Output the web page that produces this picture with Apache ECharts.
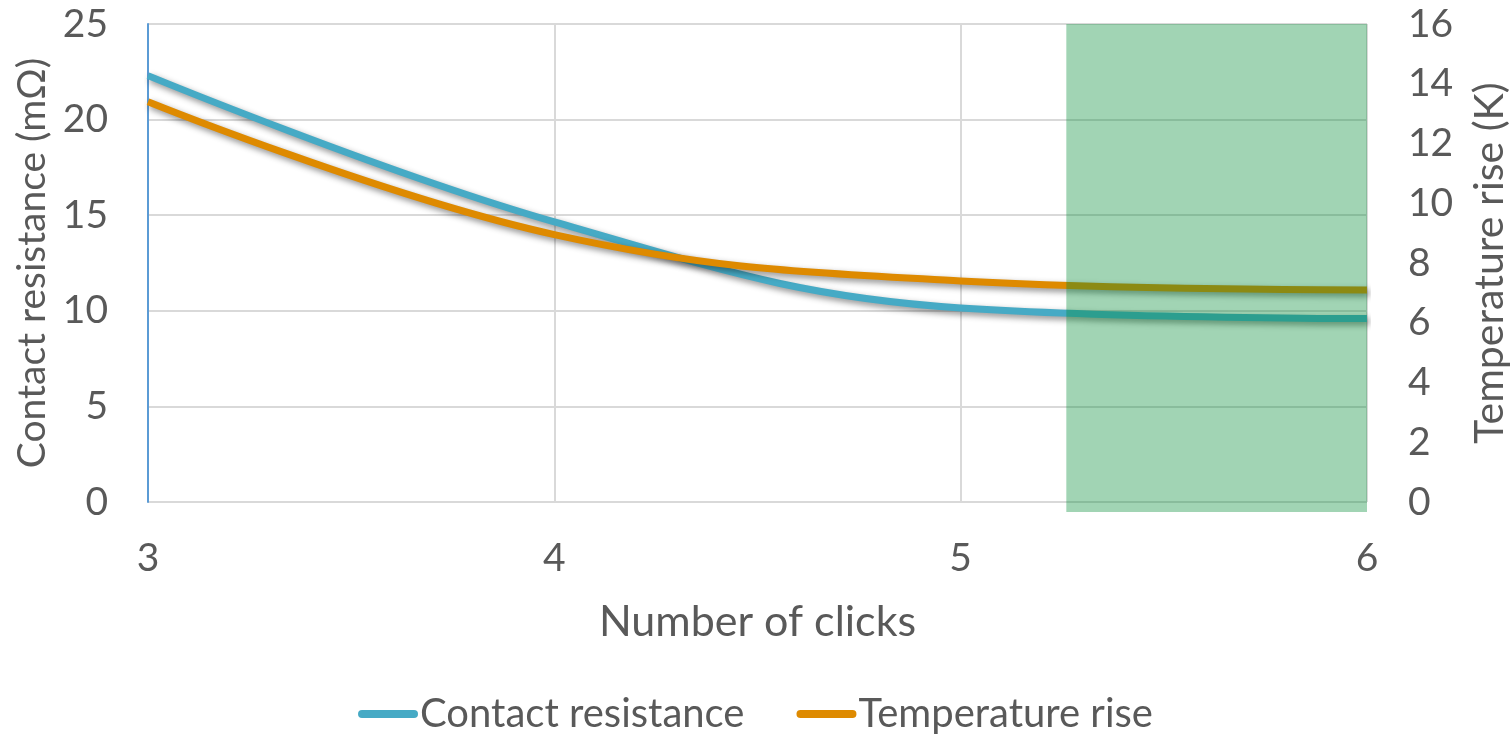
<!DOCTYPE html>
<html>
<head>
<meta charset="utf-8">
<script src="https://cdn.jsdelivr.net/npm/echarts@6/dist/echarts.min.js"></script>
<style>
html,body{margin:0;padding:0;background:#fff;}
#c{width:1511px;height:737px;}
</style>
</head>
<body>
<div id="c"></div>
<script>
const clicks = [3, 4, 5, 6];
const contactResistance = [22.3, 14.65, 10.15, 9.6];
const temperatureRise = [13.4, 8.95, 7.4, 7.1];
const shadedRange = [5.26, 6];
const leftTicks = {min: 0, max: 25, interval: 5};
const rightTicks = {min: 0, max: 16, interval: 2};

const FONT = 'Lato';
const TXT = '#595959';
const chart = echarts.init(document.getElementById('c'), null, {renderer: 'canvas'});
const shadow = {shadowBlur: 6, shadowColor: 'rgba(0,0,0,0.45)', shadowOffsetX: 2, shadowOffsetY: 3};

chart.setOption({
  animation: false,
  backgroundColor: '#fff',
  grid: {left: 148, right: 144, top: 24, bottom: 235, containLabel: false, outerBoundsMode: 'none'},
  legend: {
    bottom: -2, left: 'center',
    itemWidth: 60, itemHeight: 8, itemGap: 52,
    icon: 'path://M4,0 H56 A4,4 0 0 1 56,8 H4 A4,4 0 0 1 4,0 Z',
    textStyle: {fontFamily: FONT, fontSize: 40, color: TXT, padding: [0,0,0,-3]},
    data: ['Contact resistance', 'Temperature rise']
  },
  xAxis: {
    type: 'value', min: 3, max: 6, interval: 1,
    name: 'Number of clicks', nameLocation: 'middle', nameGap: 99,
    nameTextStyle: {fontFamily: FONT, fontSize: 43, color: TXT},
    axisLine: {show: false}, axisTick: {show: false},
    axisLabel: {fontFamily: FONT, fontSize: 39, color: TXT, margin: 37},
    splitLine: {show: true, lineStyle: {color: '#d9d9d9', width: 2}}
  },
  yAxis: [{
    type: 'value', min: leftTicks.min, max: leftTicks.max, interval: leftTicks.interval,
    name: 'Contact resistance (mΩ)', nameLocation: 'middle', nameGap: 95, nameRotate: 90,
    nameTextStyle: {fontFamily: FONT, fontSize: 39, color: TXT},
    axisLine: {show: true, lineStyle: {color: '#5B9BD5', width: 2}}, axisTick: {show: false},
    axisLabel: {fontFamily: FONT, fontSize: 39, color: TXT, margin: 40},
    splitLine: {show: true, lineStyle: {color: '#d9d9d9', width: 2}}
  }, {
    type: 'value', min: rightTicks.min, max: rightTicks.max, interval: rightTicks.interval,
    name: 'Temperature rise (K)', nameLocation: 'middle', nameGap: 102, nameRotate: 90,
    nameTextStyle: {fontFamily: FONT, fontSize: 41, color: TXT},
    axisLine: {show: false}, axisTick: {show: false},
    axisLabel: {fontFamily: FONT, fontSize: 39, color: TXT, margin: 41},
    splitLine: {show: false}
  }],
  series: [{
    name: 'Contact resistance', type: 'line', yAxisIndex: 0,
    data: clicks.map((x, i) => [x, contactResistance[i]]),
    smooth: 0.4, showSymbol: false, symbol: 'none', z: 3,
    lineStyle: Object.assign({color: '#46AAC5', width: 7}, shadow),
    itemStyle: {color: '#46AAC5'}
  }, {
    name: 'Temperature rise', type: 'line', yAxisIndex: 1,
    data: clicks.map((x, i) => [x, temperatureRise[i]]),
    smooth: 0.4, showSymbol: false, symbol: 'none', z: 3,
    lineStyle: Object.assign({color: '#DE8A00', width: 7}, shadow),
    itemStyle: {color: '#DE8A00'}
  }, {
    name: 'shade', type: 'custom', yAxisIndex: 0, z: 10, clip: false,
    data: [[shadedRange[0], shadedRange[1]]],
    renderItem: function (params, api) {
      const p1 = api.coord([api.value(0), leftTicks.max]);
      const p2 = api.coord([api.value(1), leftTicks.min]);
      return {
        type: 'rect',
        shape: {x: p1[0], y: p1[1], width: p2[0] - p1[0], height: p2[1] - p1[1] + 10},
        style: {fill: 'rgba(0,138,52,0.37)'}
      };
    },
    silent: true
  }]
});
</script>
</body>
</html>
